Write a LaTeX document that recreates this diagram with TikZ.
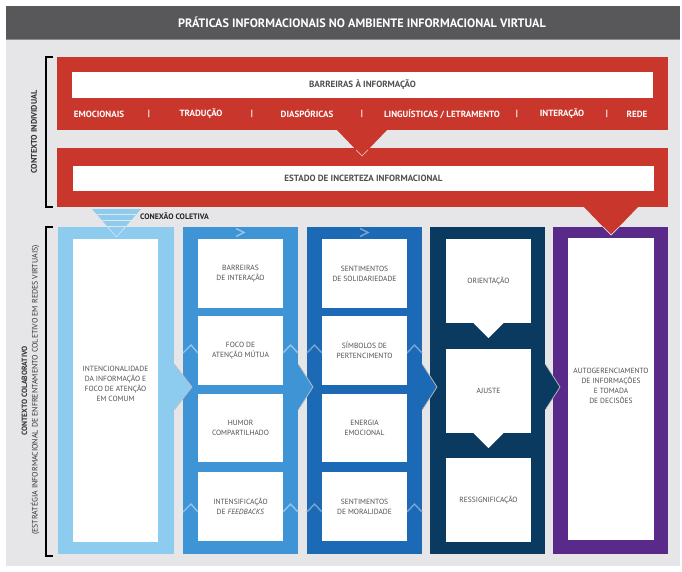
\documentclass[tikz,border=0pt]{standalone}
\usepackage{fontspec}
\setmainfont{PT Sans}
\newfontfamily\cond{PT Sans}
\definecolor{bg}{HTML}{E6E6E8}
\definecolor{titlebar}{HTML}{58585A}
\definecolor{redc}{HTML}{C9372C}
\definecolor{txtg}{HTML}{505050}
\definecolor{cA}{HTML}{8DCBEF}
\definecolor{cB}{HTML}{3F94D6}
\definecolor{cC}{HTML}{1C6AB5}
\definecolor{cD}{HTML}{0B3A60}
\definecolor{cE}{HTML}{5A2A8A}
\tikzset{
  lbl/.style={font=\cond\fontsize{7.5}{10}\selectfont, text=txtg, align=center, inner sep=0pt},
  wbox/.style={fill=white, inner sep=0pt, draw=none},
  redlbl/.style={font=\cond\bfseries\fontsize{9}{10}\selectfont, text=white, inner sep=0pt},
  barlbl/.style={font=\cond\bfseries\fontsize{9}{10}\selectfont, text=txtg, inner sep=0pt},
  sidelbl/.style={font=\cond\fontsize{7.9}{9}\selectfont, text=black!80, inner sep=0pt, rotate=90},
  chevline/.style={draw=white!75!black, line width=0.7pt, line join=miter},
  faint/.style={line width=1.4pt, line join=miter}
}
\begin{document}
\begin{tikzpicture}[x=1pt,y=-1pt]
\useasboundingbox (0,0) rectangle (682,572);
% panel and title bar
\fill[bg] (6,6) rectangle (680,566);
\fill[titlebar] (6,6) rectangle (680,39);
\draw[black!45, line width=0.8pt] (6,39) -- (680,39);
\node[font=\cond\bfseries\fontsize{12.2}{13}\selectfont, text=white, inner sep=0pt] (title) at (362,22.5) {PRÁTICAS INFORMACIONAIS NO AMBIENTE INFORMACIONAL VIRTUAL};

% brackets
\draw[black, line width=1.1pt] (53,57) -- (46,57) -- (46,207) -- (53,207);
\draw[black, line width=1.1pt] (53,227) -- (46,227) -- (46,556) -- (53,556);
\node[sidelbl, font=\cond\bfseries\fontsize{8.2}{9}\selectfont] (ctxind) at (34,132) {CONTEXTO INDIVIDUAL};
\node[sidelbl, font=\cond\bfseries\fontsize{7.6}{9}\selectfont] (ctxcol) at (24.5,391) {CONTEXTO COLABORATIVO};
\node[sidelbl] (ctxest) at (35,390) {(ESTRATÉGIA INFORMACIONAL DE ENFRENTAMENTO COLETIVO EM REDES VIRTUAIS)};

% red band 1
\fill[redc] (57,57) rectangle (668,130);
\node[wbox, minimum width=581pt, minimum height=26pt, barlbl] (barreiras) at (362.5,85) {BARREIRAS À INFORMAÇÃO};
\node[redlbl] (r1) at (99,114) {EMOCIONAIS};
\node[redlbl] (s1) at (149,114) {|};
\node[redlbl] (r2) at (201,114) {TRADUÇÃO};
\node[redlbl] (s2) at (252,114) {|};
\node[redlbl] (r3) at (307,114) {DIASPÓRICAS};
\node[redlbl] (s3) at (362,114) {|};
\node[redlbl] (r4) at (442,114) {LINGUÍSTICAS / LETRAMENTO};
\node[redlbl] (s4) at (517,114) {|};
\node[redlbl] (r5) at (562,114) {INTERAÇÃO};
\node[redlbl] (s5) at (607,114) {|};
\node[redlbl] (r6) at (637,114) {REDE};

% red band 2
\fill[redc] (57,148) rectangle (668,207);
\node[wbox, minimum width=581pt, minimum height=25pt, barlbl] (estado) at (363.5,178.5) {ESTADO DE INCERTEZA INFORMACIONAL};
% triangle band1 -> band2
\fill[redc] (336,129) -- (388,129) -- (362,156) -- cycle;
\draw[draw=redc!35!white, line width=0.7pt] (356,149.8) -- (362,156) -- (368,149.8);

% columns
\fill[cA] (58,227) rectangle (174,554);
\fill[cB] (183,227) rectangle (298,554);
\fill[cC] (307,227) rectangle (422,554);
\fill[cD] (430,227) rectangle (545,554);
\fill[cE] (553,227) rectangle (668,554);

% faint decorations on col 2 and col 3
\draw[faint, cB!55!white] (236,228.5) -- (244,232.5) -- (236,236.5);
\draw[faint, cC!60!white] (360,228.5) -- (368,232.5) -- (360,236.5);
\foreach \yy in {353,512}{
  \draw[faint, cB!55!white] (183,\yy) -- (191,\yy-8) -- (198,\yy);
  \draw[faint, cB!55!white] (283,\yy) -- (290.5,\yy-8) -- (298,\yy);
  \draw[faint, cC!60!white] (307,\yy) -- (314.5,\yy-8) -- (322,\yy);
  \draw[faint, cC!60!white] (407,\yy) -- (414.5,\yy-8) -- (422,\yy);
}

% red triangle into column 5
\fill[redc] (583,206) -- (639,206) -- (611,235) -- cycle;
\draw[draw=white!85!cE, line width=0.7pt] (603,227) -- (611,235) -- (619,227);

% conexao coletiva
\begin{scope}
  \clip (92,209) -- (141,209) -- (116.5,237) -- cycle;
  \fill[cA] (90,205) rectangle (145,240);
  \draw[bg, line width=1.4pt] (85,214.3) -- (150,214.3);
  \draw[bg, line width=1.4pt] (85,220.3) -- (150,220.3);
  \draw[bg, line width=1.4pt] (85,226.2) -- (150,226.2);
\end{scope}
\draw[draw=white!60!cA, line width=0.6pt] (107.3,226.5) -- (116.5,237) -- (125.7,226.5);
\node[font=\cond\bfseries\fontsize{7.9}{9}\selectfont, text=black!85, anchor=west, inner sep=0pt] (conexao) at (140,216.5) {CONEXÃO COLETIVA};

% column 1
\node[wbox, minimum width=85pt, minimum height=303pt] (c1box) at (115.5,390.5) {};
\node[lbl] (c1txt) at (115.5,383.5) {INTENCIONALIDADE\\DA INFORMAÇÃO E\\FOCO DE ATENÇÃO\\EM COMUM};

% column 2
\node[wbox, lbl, minimum width=85pt, minimum height=69pt] (b21) at (240.5,273.5) {BARREIRAS\\DE INTERAÇÃO};
\node[wbox, lbl, minimum width=85pt, minimum height=69pt] (b22) at (240.5,350.5) {FOCO DE\\ATENÇÃO MÚTUA};
\node[wbox, lbl, minimum width=85pt, minimum height=68pt] (b23) at (240.5,428) {HUMOR\\COMPARTILHADO};
\node[wbox, lbl, minimum width=85pt, minimum height=69pt] (b24) at (240.5,506.5) {INTENSIFICAÇÃO\\DE \textit{FEEDBACKS}};

% column 3
\node[wbox, lbl, minimum width=85pt, minimum height=69pt] (b31) at (364.5,273.5) {SENTIMENTOS\\DE SOLIDARIEDADE};
\node[wbox, lbl, minimum width=85pt, minimum height=69pt] (b32) at (364.5,350.5) {SÍMBOLOS DE\\PERTENCIMENTO};
\node[wbox, lbl, minimum width=85pt, minimum height=68pt] (b33) at (364.5,428) {ENERGIA\\EMOCIONAL};
\node[wbox, lbl, minimum width=85pt, minimum height=69pt] (b34) at (364.5,506.5) {SENTIMENTOS\\DE MORALIDADE};

% column 4
\node[wbox, lbl, minimum width=85pt, minimum height=84pt] (b41) at (488.5,281) {ORIENTAÇÃO};
\node[wbox, lbl, minimum width=85pt, minimum height=84pt] (b42) at (488.5,391) {AJUSTE};
\node[wbox, lbl, minimum width=85pt, minimum height=84pt] (b43) at (488.5,500) {RESSIGNIFICAÇÃO};
\fill[white] ([xshift=-15pt]b41.south) -- ([xshift=15pt]b41.south) -- ([yshift=-15pt]b41.south) -- cycle;
\fill[white] ([xshift=-15pt]b42.south) -- ([xshift=15pt]b42.south) -- ([yshift=-15pt]b42.south) -- cycle;

% column 5
\node[wbox, minimum width=86pt, minimum height=302pt] (c5box) at (611,389) {};
\node[lbl] (c5txt) at (611,386) {AUTOGERENCIAMENTO\\DE INFORMAÇÕES\\E TOMADA\\DE DECISÕES};

% chevron arrows between columns
\foreach \xa/\xb/\cc in {174/192/cA, 298/313/cB, 422/437/cC, 545/560/cD}{
  \fill[\cc] (\xa,364) -- (\xb,387) -- (\xa,410) -- cycle;
  \draw[chevline] (\xa+0.3,364) -- (\xb,387) -- (\xa+0.3,410);
}
\end{tikzpicture}
\end{document}
